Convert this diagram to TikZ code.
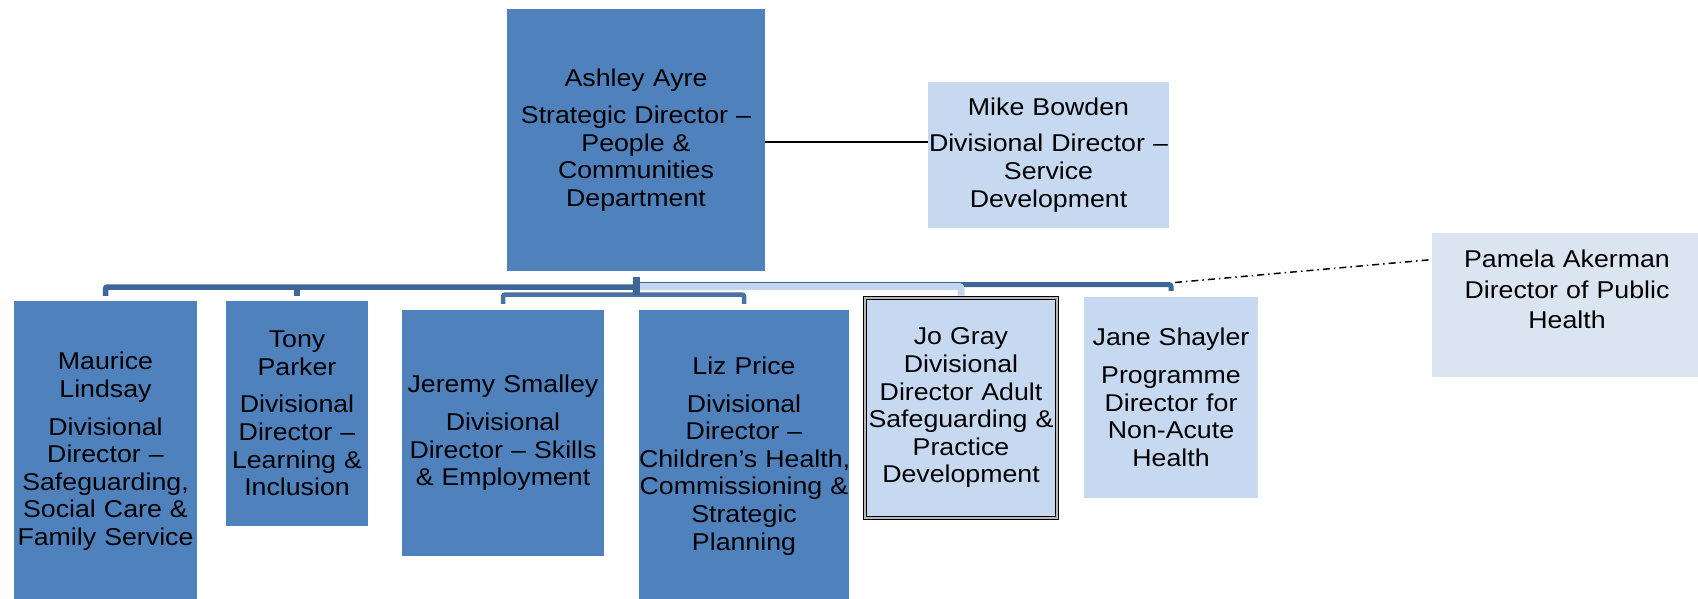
\documentclass[tikz,border=0pt]{standalone}
\usepackage{fontspec}
\setmainfont{Liberation Sans}[FakeStretch=1.1]
\definecolor{boxdark}{HTML}{4F81BD}
\definecolor{boxlight}{HTML}{C6D9F1}
\definecolor{boxpale}{HTML}{DBE5F1}
\definecolor{linkdark}{HTML}{3E6696}
\definecolor{linkmid}{HTML}{4B70A2}
\definecolor{linklight}{HTML}{C5D5EC}
\begin{document}
\begin{tikzpicture}[x=1pt,y=-1pt,
  every node/.style={font=\fontsize{24.3}{27.6}\selectfont, align=center,
    inner sep=0pt, text=black},
  darkbox/.style={fill=boxdark},
  lightbox/.style={fill=boxlight},
  palebox/.style={fill=boxpale},
  framedbox/.style={fill=boxlight, draw=black, line width=1pt,
    double=gray!55, double distance=2pt},
  linkbus/.style={draw=linkdark, line width=5.5pt, rounded corners=2pt},
  linkpale/.style={draw=linklight, line width=7pt, rounded corners=2pt},
  linkpair/.style={draw=linkmid, line width=4.5pt, rounded corners=2pt},
  assist/.style={draw=black, line width=2pt},
  dotlink/.style={draw=black, line width=1.5pt,
    dash pattern=on 7pt off 4pt on 1.5pt off 4pt}
]
\useasboundingbox (0,0) rectangle (1698,598);
\fill[white] (0,0) rectangle (1698,598);

% top of the chart
\node[darkbox, minimum width=258pt, minimum height=262pt, text width=258pt]
  (ashley) at (636,140)
  {Ashley Ayre\\[10pt]Strategic Director –\\People \&\\Communities\\Department};
\node[lightbox, minimum width=241pt, minimum height=146pt, text width=241pt]
  (mike) at (1048.5,155)
  {Mike Bowden\\[9pt]Divisional Director –\\Service\\Development};

% divisional directors
\node[darkbox, minimum width=183pt, minimum height=301pt, text width=183pt]
  (maurice) at (105.5,451.5)
  {Maurice\\Lindsay\\[10pt]Divisional\\Director –\\Safeguarding,\\Social Care \&\\Family Service};
\node[darkbox, minimum width=142pt, minimum height=225pt, text width=142pt]
  (tony) at (297,413.5)
  {Tony\\Parker\\[10pt]Divisional\\Director –\\Learning \&\\Inclusion};
\node[darkbox, minimum width=202pt, minimum height=246pt, text width=202pt]
  (jeremy) at (503,433)
  {Jeremy Smalley\\[10pt]Divisional\\Director – Skills\\\& Employment};
\node[darkbox, minimum width=210pt, minimum height=292pt, text width=210pt]
  (liz) at (744,456)
  {Liz Price\\[10pt]Divisional\\Director –\\\mbox{Children’s Health,}\\Commissioning \&\\Strategic\\Planning};
\node[framedbox, minimum width=192pt, minimum height=220pt, text width=188pt]
  (jo) at (961,408)
  {Jo Gray\\Divisional\\Director Adult\\Safeguarding \&\\Practice\\Development};
\node[lightbox, minimum width=174pt, minimum height=201pt, text width=174pt]
  (jane) at (1171,397.5)
  {Jane Shayler\\[10pt]Programme\\Director for\\Non-Acute\\Health};
\node[palebox, minimum width=270pt, minimum height=144pt] (pamela) at (1567,305) {};
\node[anchor=north, text width=268pt,
  font=\fontsize{24.3}{30.5}\selectfont] (pamelatext) at (1567,250)
  {Pamela Akerman\\Director of Public\\Health};

% bus levels
\coordinate (hub) at (636,277);
\coordinate (busjane) at (0,284.5);
\coordinate (busjo) at (0,286.5);
\coordinate (busleft) at (0,287);
\coordinate (buspair) at (0,294.5);

% reporting lines
\draw[linkbus, line width=5pt] ([yshift=6pt]jane.north) |- (hub |- busjane);
\draw[linkpale] ([yshift=2pt]jo.north) |- (hub |- busjo);
\draw[linkbus] ([yshift=5pt]maurice.north) |- (hub |- busleft);
\draw[linkbus] ([yshift=5pt]tony.north) -- (tony.north |- busleft);
\draw[linkpair] ([yshift=6pt]jeremy.north) |- (hub |- buspair) -| ([yshift=6pt]liz.north);
\draw[linkbus, line width=7pt] (hub) -- (hub |- buspair);

% assistant and dotted-line relationships
\draw[assist] ([yshift=-2pt]ashley.east) -- ([yshift=-2pt]ashley.east -| mike.west);
\draw[dotlink] ([xshift=4pt,yshift=2pt]jane.north |- busjane)
  -- ([xshift=-2pt,yshift=-27pt]pamela.north west);
\end{tikzpicture}
\end{document}
